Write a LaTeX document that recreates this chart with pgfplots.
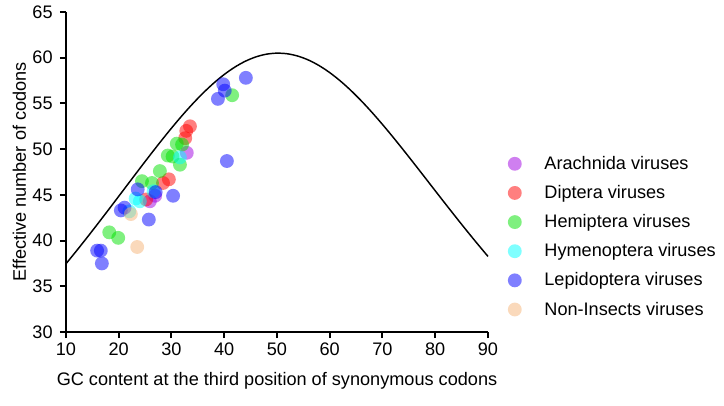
\documentclass[border=0pt]{standalone}
\usepackage{pgfplots}
\pgfplotsset{compat=1.18}
\usepackage{fontspec}
\setmainfont{Liberation Sans}
\definecolor{arach}{RGB}{160,0,225}
\definecolor{dipt}{RGB}{255,0,0}
\definecolor{hemi}{RGB}{0,225,0}
\definecolor{hyme}{RGB}{0,255,255}
\definecolor{lepi}{RGB}{0,0,255}
\definecolor{nonin}{RGB}{245,180,120}
\begin{document}
\begin{tikzpicture}
\useasboundingbox (0,0) rectangle (543pt,303.75pt);
\begin{axis}[
  at={(49.5pt,54.75pt)}, anchor=south west,
  scale only axis, width=316.5pt, height=240pt,
  xmin=10, xmax=90, ymin=30, ymax=65,
  xtick={10,20,...,90}, ytick={30,35,...,65},
  axis x line=bottom, axis y line=left,
  axis line style={-, line width=1.5pt, black},
  tick style={line width=1.5pt, black},
  tick align=outside, major tick length=4.5pt,
  /pgf/number format/assume math mode=true,
  tick label style={font=\fontsize{13.6}{16}\selectfont},
  yticklabel style={xshift=-2pt},
  label style={font=\fontsize{13.6}{16}\selectfont},
  xlabel={GC content at the third position of synonymous codons},
  ylabel={Effective number of codons},
  xlabel style={yshift=-6pt},
  ylabel style={yshift=-2pt},
  clip=false,
  legend style={at={(1.037,0.298)}, anchor=west, draw=none, fill=none,
    font=\fontsize{13.6}{16}\selectfont, row sep=6.5pt,
    /tikz/every odd column/.append style={column sep=15pt}},
  legend cell align=left,
  every axis plot/.append style={only marks, mark=*, mark size=5.2pt},
]
\addplot[forget plot, only marks=false, no markers, smooth, line width=1.1pt, black] coordinates {
(10,37.466)(12,38.885)(14,40.338)(16,41.821)(18,43.326)(20,44.847)(22,46.373)(24,47.895)(26,49.399)(28,50.872)
(30,52.3)(32,53.666)(34,54.952)(36,56.143)(38,57.221)(40,58.169)(42,58.972)(44,59.617)(46,60.091)(48,60.387)
(50,60.5)(52,60.427)(54,60.171)(56,59.737)(58,59.132)(60,58.369)(62,57.461)(64,56.423)(66,55.272)(68,54.026)
(70,52.7)(72,51.312)(74,49.879)(76,48.415)(78,46.933)(80,45.447)(82,43.966)(84,42.501)(86,41.058)(88,39.645)(90,38.266)};
\addplot[arach, mark options={draw opacity=0, line width=0pt, fill=arach, fill opacity=0.5}] coordinates {(32.9,49.6)(26.9,44.9)(25.9,44.3)};
\addlegendentry{Arachnida viruses}
\addplot[dipt, mark options={draw opacity=0, line width=0pt, fill=dipt, fill opacity=0.5}] coordinates {(33.5,52.5)(32.8,52.0)(32.6,51.2)(29.5,46.7)(28.4,46.3)(25.2,44.5)};
\addlegendentry{Diptera viruses}
\addplot[hemi, mark options={draw opacity=0, line width=0pt, fill=hemi, fill opacity=0.5}] coordinates {(18.2,40.9)(19.9,40.3)(24.4,46.5)(26.3,46.3)(27.8,47.6)(29.3,49.3)(30.2,49.2)(31.0,50.6)(31.6,48.3)(32.0,50.5)(41.5,55.9)};
\addlegendentry{Hemiptera viruses}
\addplot[hyme, mark options={draw opacity=0, line width=0pt, fill=hyme, fill opacity=0.5}] coordinates {(31.6,49.1)(23.2,44.6)(24.0,44.3)(26.6,45.4)(22.0,43.2)};
\addlegendentry{Hymenoptera viruses}
\addplot[lepi, mark options={draw opacity=0, line width=0pt, fill=lepi, fill opacity=0.5}] coordinates {(15.9,38.9)(16.6,38.9)(16.8,37.5)(20.4,43.3)(21.1,43.6)(23.6,45.6)(25.7,42.3)(27.0,45.3)(30.3,44.9)(38.8,55.5)(39.8,57.1)(40.1,56.4)(44.1,57.8)(40.5,48.7)};
\addlegendentry{Lepidoptera viruses}
\addplot[nonin, mark options={draw opacity=0, line width=0pt, fill=nonin, fill opacity=0.5}] coordinates {(22.3,42.9)(23.5,39.3)};
\addlegendentry{Non-Insects viruses}
\end{axis}
\end{tikzpicture}
\end{document}
